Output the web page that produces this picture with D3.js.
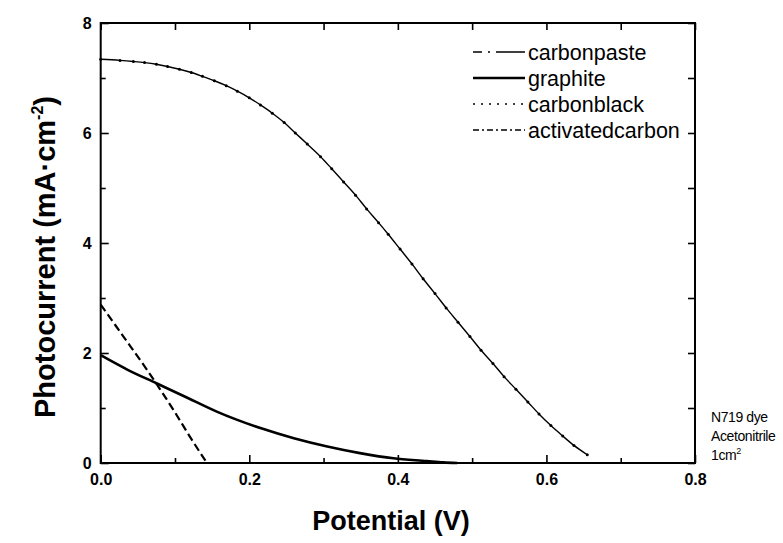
<!DOCTYPE html>
<html>
<head>
<meta charset="utf-8">
<script src="https://cdn.jsdelivr.net/npm/d3@7"></script>
<style>
  body { margin: 0; background: #fff; }
  svg { font-family: "Liberation Sans", Arial, sans-serif; }
</style>
</head>
<body>
<div id="chart"></div>
<script>
// data
var cbV = [0, 0.026, 0.044, 0.059, 0.075, 0.090, 0.106, 0.122, 0.137, 0.153, 0.169, 0.184, 0.200, 0.215, 0.231, 0.247, 0.262, 0.278, 0.296, 0.311, 0.327, 0.343, 0.358, 0.374, 0.387, 0.403, 0.419, 0.434, 0.450, 0.465, 0.481, 0.497, 0.512, 0.528, 0.543, 0.559, 0.575, 0.590, 0.606, 0.622, 0.637, 0.655];
var cbI = [7.34, 7.32, 7.30, 7.28, 7.25, 7.21, 7.16, 7.10, 7.03, 6.95, 6.86, 6.76, 6.64, 6.51, 6.36, 6.19, 6.00, 5.80, 5.57, 5.35, 5.11, 4.87, 4.62, 4.37, 4.16, 3.89, 3.62, 3.35, 3.08, 2.82, 2.56, 2.30, 2.05, 1.81, 1.57, 1.34, 1.11, 0.89, 0.68, 0.49, 0.32, 0.15];

var gV = [0, 0.037, 0.075, 0.113, 0.157, 0.216, 0.26, 0.305, 0.349, 0.394, 0.439, 0.461, 0.48];
var gI = [1.96, 1.69, 1.45, 1.21, 0.93, 0.63, 0.45, 0.30, 0.18, 0.085, 0.036, 0.012, 0];

var cpV = [0, 0.02, 0.04, 0.06, 0.08, 0.10, 0.12, 0.143];
var cpI = [2.88, 2.50, 2.12, 1.74, 1.34, 0.92, 0.48, 0];

var legendNames = ["carbonpaste", "graphite", "carbonblack", "activatedcarbon"];
var xMajor = [0, 0.2, 0.4, 0.6, 0.8];
var xMinor = [0.1, 0.3, 0.5, 0.7];
var yMajor = [0, 2, 4, 6, 8];
var yMinor = [1, 3, 5, 7];
var noteLines = ["N719 dye", "Acetonitrile"];

var margin = { top: 23, right: 88, bottom: 80, left: 100.7 },
    width = 783 - margin.left - margin.right,
    height = 543 - margin.top - margin.bottom;

var svgRoot = d3.select("#chart").append("svg")
    .attr("width", 783)
    .attr("height", 543);

var svg = svgRoot.append("g")
    .attr("transform", "translate(" + margin.left + "," + margin.top + ")");

var x = d3.scaleLinear().domain([0, 0.8]).range([0, width]);
var y = d3.scaleLinear().domain([0, 8]).range([height, 0]);

function zip(v, c) { return v.map(function(d, i) { return { v: d, i: c[i] }; }); }

var line = d3.line()
    .x(function(d) { return x(d.v); })
    .y(function(d) { return y(d.i); })
    .curve(d3.curveMonotoneX);

// axes, ticks pointing inward
function styleAxis(g) {
  g.select(".domain").remove();
  g.selectAll("line").attr("stroke", "#000").attr("stroke-width", 1.6);
  g.selectAll("text").attr("fill", "#000").style("font-weight", "bold").style("font-size", "16px")
    .style("font-family", "'Liberation Sans', Arial, sans-serif");
}

svg.append("g").attr("transform", "translate(0," + height + ")")
  .call(d3.axisBottom(x).tickValues(xMajor).tickSize(-8).tickPadding(10.5).tickFormat(d3.format(".1f")))
  .call(styleAxis);
svg.append("g").attr("transform", "translate(0," + height + ")")
  .call(d3.axisBottom(x).tickValues(xMinor).tickSize(-5).tickFormat(""))
  .call(styleAxis);
svg.append("g")
  .call(d3.axisLeft(y).tickValues(yMajor).tickSize(-8).tickPadding(9).tickFormat(d3.format("d")))
  .call(styleAxis);
svg.append("g")
  .call(d3.axisLeft(y).tickValues(yMinor).tickSize(-5).tickFormat(""))
  .call(styleAxis);
// top and right: ticks only
svg.append("g")
  .call(d3.axisTop(x).tickValues(xMajor.concat(xMinor)).tickSize(-7).tickFormat(""))
  .call(styleAxis);
svg.append("g").attr("transform", "translate(" + width + ",0)")
  .call(d3.axisRight(y).tickValues(yMajor.concat(yMinor)).tickSize(-7).tickFormat(""))
  .call(styleAxis);

svg.append("rect")
  .attr("width", width).attr("height", height)
  .attr("fill", "none").attr("stroke", "#000").attr("stroke-width", 2);

// curves
svg.append("path")
  .datum(zip(cbV, cbI))
  .attr("d", line)
  .attr("fill", "none").attr("stroke", "#000").attr("stroke-width", 1.4);
svg.selectAll(".cbdot")
  .data(zip(cbV, cbI))
  .enter().append("circle")
  .attr("class", "cbdot")
  .attr("cx", function(d) { return x(d.v); })
  .attr("cy", function(d) { return y(d.i); })
  .attr("r", 1.5)
  .attr("fill", "#000");

svg.append("path")
  .datum(zip(gV, gI))
  .attr("d", line)
  .attr("fill", "none").attr("stroke", "#000").attr("stroke-width", 2.6);

svg.append("path")
  .datum(zip(cpV, cpI))
  .attr("d", line)
  .attr("fill", "none").attr("stroke", "#000").attr("stroke-width", 2.2)
  .attr("stroke-dasharray", "8,4");

// legend
var dashes = ["9,6,2,6,29", null, "2,6", "6,3,2,3"];
var widths = [1.6, 2.6, 1.6, 1.6];
var legend = svgRoot.selectAll(".legend")
  .data(legendNames)
  .enter().append("g")
  .attr("class", "legend")
  .attr("transform", function(d, i) { return "translate(473," + (52 + i * 26) + ")"; });

legend.append("line")
  .attr("x1", 0).attr("x2", 52)
  .attr("stroke", "#000")
  .attr("stroke-width", function(d, i) { return widths[i]; })
  .attr("stroke-dasharray", function(d, i) { return dashes[i]; });

legend.append("text")
  .attr("x", 55)
  .attr("dy", "0.35em")
  .style("font-size", "21.5px")
  .text(function(d) { return d; });

// axis titles
svgRoot.append("text")
  .attr("x", 391).attr("y", 530)
  .attr("text-anchor", "middle")
  .style("font-size", "27px").style("font-weight", "bold")
  .text("Potential (V)");

var yTitle = svgRoot.append("text")
  .attr("transform", "translate(55,257) rotate(-90)")
  .attr("text-anchor", "middle")
  .style("font-size", "29px").style("font-weight", "bold");
yTitle.append("tspan").text("Photocurrent (mA\u00b7cm");
yTitle.append("tspan").attr("dy", -12).style("font-size", "16px").text("-2");
yTitle.append("tspan").attr("dy", 12).text(")");

// note
var note = svgRoot.append("g").attr("transform", "translate(711,0)");
note.selectAll(".noteline")
  .data(noteLines)
  .enter().append("text")
  .attr("class", "noteline")
  .attr("y", function(d, i) { return 421.7 + i * 19; })
  .style("font-size", "14px")
  .style("letter-spacing", "-0.4px")
  .text(function(d) { return d; });
var area = note.append("text")
  .attr("y", 459.5)
  .style("font-size", "14px")
  .style("letter-spacing", "-0.4px");
area.append("tspan").text("1cm");
area.append("tspan").attr("dy", -6).style("font-size", "9px").text("2");
</script>
</body>
</html>
